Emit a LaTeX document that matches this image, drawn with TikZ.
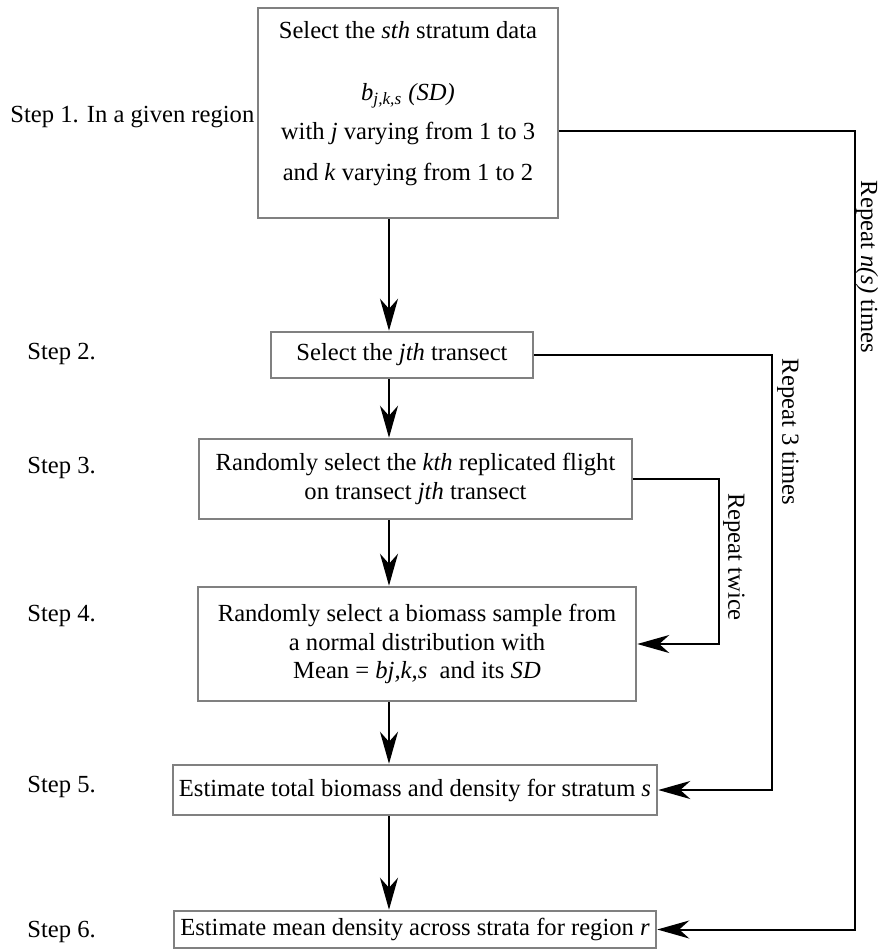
\documentclass[tikz,border=0pt]{standalone}
\usepackage{fontspec}
\setmainfont{Liberation Serif}
\usetikzlibrary{arrows.meta}

\begin{document}
\begin{tikzpicture}[x=0.5pt,y=-0.5pt,
  font=\fontsize{12.3}{14.25}\selectfont,
  stepbox/.style={draw=black!50,line width=1.25pt,align=center,inner sep=2pt},
  flow/.style={line width=1pt,-{Stealth[length=16pt,width=9pt,inset=5pt]}},
  looplabel/.style={rotate=-90,inner sep=0pt}]
\useasboundingbox (0,0) rectangle (885,949);

\node[stepbox,minimum width=150pt,minimum height=105pt] (sel) at (408,113)
  {Select the \textit{sth} stratum data\\[17pt]
   \textit{b}\textsubscript{\textit{j,k,s}} \textit{(SD)}\\[5pt]
   with \textit{j} varying from 1 to 3\\[6.5pt]
   and \textit{k} varying from 1 to 2\\[-2pt]\mbox{}};
\node[stepbox,minimum width=131pt,minimum height=23pt] (tran) at (402,355)
  {Select the \textit{jth} transect};
\node[stepbox,minimum width=216.5pt,minimum height=40pt] (flight) at (415.5,479)
  {Randomly select the \textit{kth} replicated flight\\ on transect \textit{jth} transect};
\node[stepbox,minimum width=219pt,minimum height=57pt] (sample) at (417,644)
  {Randomly select a biomass sample from\\ a normal distribution with\\
   Mean = \textit{bj,k,s}\ \ and its \textit{SD}};
\node[stepbox,minimum width=242pt,minimum height=25pt] (stratum) at (415,790)
  {Estimate total biomass and density for stratum \textit{s}};
\node[stepbox,minimum width=241pt,minimum height=18.5pt] (region) at (415,929.5)
  {Estimate mean density across strata for region \textit{r}};

\node[anchor=west,inner sep=0pt] (s1) at (10,117) {Step 1. In a given region};
\foreach \n/\y in {2/354,3/468,4/616,5/787,6/932} {
  \node[anchor=west,inner sep=0pt] (s\n) at (27,\y) {Step \n.};
}

\coordinate (spine) at (389,0);
\coordinate (twice) at (719,0);
\coordinate (three) at (772,0);
\coordinate (ns) at (855,0);

\foreach \a/\b in {sel/tran,tran/flight,flight/sample,sample/stratum,stratum/region} {
  \draw[flow] (\a.south -| spine) -- (\b.north -| spine);
}

\draw[flow] (flight.east) -- (flight.east -| twice) -- (sample.east -| twice) -- (sample.east);
\draw[flow] (tran.east) -- (tran.east -| three) -- (stratum.east -| three) -- (stratum.east);
\draw[flow] ([yshift=-9pt]sel.east) coordinate (ns0) -- (ns0 -| ns) -- (region.east -| ns) -- (region.east);

\node[looplabel] (lbl2) at (734,557) {Repeat twice};
\node[looplabel] (lbl3) at (788,432) {Repeat 3 times};
\node[looplabel] (lblns) at (867,267) {Repeat \textit{n(s)} times};
\end{tikzpicture}
\end{document}
